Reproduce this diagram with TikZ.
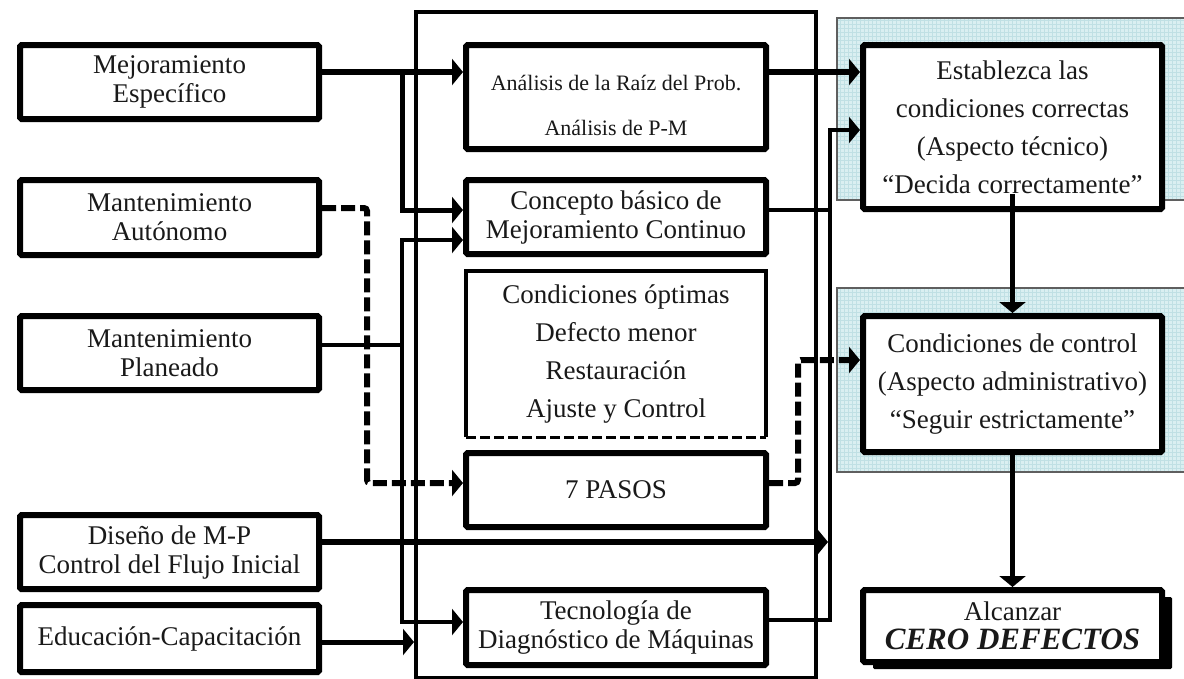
\documentclass[tikz,border=0pt]{standalone}
\usepackage{fontspec}
\setmainfont{Liberation Serif}
\usetikzlibrary{arrows.meta,shadows}
\definecolor{ink}{RGB}{25,25,25}
\definecolor{paleblue}{RGB}{218,239,241}
\definecolor{gridblue}{RGB}{192,224,228}
\definecolor{edgegrey}{RGB}{95,95,95}
\begin{document}
\begin{tikzpicture}[x=1pt,y=-1pt,
  txt/.style={font=\fontsize{27}{29}\selectfont, text=ink, align=center},
  wtxt/.style={font=\fontsize{27}{38}\selectfont, text=ink, align=center},
  box/.style={draw=black, line width=6pt, fill=white, inner sep=0pt, rounded corners=1.5pt, txt},
  lbox/.style={box, minimum width=299pt, minimum height=74pt},
  mbox/.style={box, minimum width=300pt},
  rbox/.style={box, minimum width=299pt},
  tip/.style={-{Triangle[length=11pt,width=26pt]}},
  conn/.style={line width=4pt},
  heavy/.style={line width=6pt},
  dashconn/.style={line width=6pt, dash pattern=on 14pt off 5pt},
  panel/.style={fill=paleblue},
  panelgrid/.style={draw=gridblue, line width=0.6pt},
  paneledge/.style={draw=edgegrey, line width=1.5pt}
]
\useasboundingbox (0,0) rectangle (1184,678);
\clip (0,0) rectangle (1184,678);

% shaded panels behind the right-hand boxes
\begin{scope}
  \clip (837,18) rectangle (1190,200);
  \fill[panel] (837,18) rectangle (1190,200);
  \draw[panelgrid, step=4pt] (837,200) grid (1190,18);
\end{scope}
\draw[paneledge] (837,18) rectangle (1190,200);
\begin{scope}
  \clip (837,288) rectangle (1190,472);
  \fill[panel] (837,288) rectangle (1190,472);
  \draw[panelgrid, step=4pt] (837,472) grid (1190,288);
\end{scope}
\draw[paneledge] (837,288) rectangle (1190,472);

% central frame
\node[draw=black, line width=4pt, minimum width=400pt, minimum height=666pt, inner sep=0pt] (frame) at (616,345) {};

% pillars on the left
\node[lbox] (me) at (169.5,82) {Mejoramiento\\Específico};
\node[lbox, minimum height=75pt] (ma) at (169.5,217.5) {Mantenimiento\\Autónomo};
\node[lbox] (mp) at (169.5,353) {Mantenimiento\\Planeado};
\node[lbox] (dm) at (169.5,552) {Diseño de M-P\\Control del Flujo Inicial};
\node[lbox, minimum height=67pt] (ec) at (169.5,638.5) {Educación-Capacitación};

% tools in the middle column
\node[mbox, minimum height=104pt] (an) at (616,97) {};
\node[font=\fontsize{22}{45}\selectfont, text=ink, align=center] (antext) at (616,105) {Análisis de la Raíz del Prob.\\Análisis de P-M};
\node[mbox, minimum height=74pt] (cb) at (616,217) {Concepto básico de\\Mejoramiento Continuo};
\node[wtxt, minimum width=300pt, minimum height=166pt, inner sep=0pt, outer sep=0pt] (co) at (616,354) {Condiciones óptimas\\Defecto menor\\Restauración\\Ajuste y Control};
\draw[line width=4.5pt] (co.south west) -- (co.north west) -- (co.north east) -- (co.south east);
\draw[line width=3pt, dash pattern=on 10pt off 4pt] (co.south west) -- (co.south east);
\node[mbox, minimum height=74pt] (ps) at (616,490) {7 PASOS};
\node[mbox, minimum height=75pt] (td) at (616,627.5) {Tecnología de\\Diagnóstico de Máquinas};

% results on the right
\node[rbox, wtxt, minimum height=164pt] (es) at (1012.5,127) {Establezca las\\condiciones correctas\\(Aspecto técnico)\\“Decida correctamente”};
\node[rbox, wtxt, minimum height=136pt] (cc) at (1012.5,384) {Condiciones de control\\(Aspecto administrativo)\\“Seguir estrictamente”};
\node[rbox, minimum height=72pt, general shadow={fill=black, shadow xshift=10pt, shadow yshift=-7pt}] (al) at (1012.5,626)
  {Alcanzar\\[0pt]{\fontsize{31}{33}\selectfont\bfseries\itshape CERO DEFECTOS}};

% routing points
\coordinate (j1) at (402,72);
\coordinate (j2) at (402,345);
\coordinate (k2) at (367,483);
\coordinate (d2) at (798,360);
\coordinate (v1) at (830,130);
\coordinate (v3) at (830,210);
\coordinate (dtip) at (828,542);

% connectors
\draw[heavy, tip] (me.east |- 0,72) -- (an.west |- 0,72);
\draw[line width=5pt, tip] (j1) |- (cb.west |- 0,210);
\draw[conn] (mp.east |- 0,345) -- (j2);
\draw[conn, tip] (j2) |- (cb.west |- 0,240);
\draw[conn, tip] (j2) |- (td.west |- 0,622);
\draw[dashconn, tip, rounded corners=3pt] (ma.east |- 0,208) -| (k2) -- (ps.west |- 0,483);
\draw[line width=5.5pt, tip] (dm.east |- 0,542) -- (dtip);
\draw[conn, tip] (td.east |- 0,620) -| (v1) -- (es.west |- 0,130);
\draw[conn] (cb.east |- 0,210) -- (v3);
\draw[heavy, tip] (an.east |- 0,72) -- (es.west |- 0,72);
\draw[dashconn, tip, rounded corners=3pt] (ps.east |- 0,483) -| (d2) -- (cc.west |- 0,360);
\draw[line width=5pt, -{Triangle[length=11pt,width=26pt]}] ([yshift=18pt]es.south) -- (cc.north);
\draw[line width=5pt, -{Triangle[length=11pt,width=26pt]}] (cc.south) -- (al.north);
\draw[line width=5pt, tip] (ec.east |- 0,642) -- (frame.west |- 0,642);
\end{tikzpicture}
\end{document}
